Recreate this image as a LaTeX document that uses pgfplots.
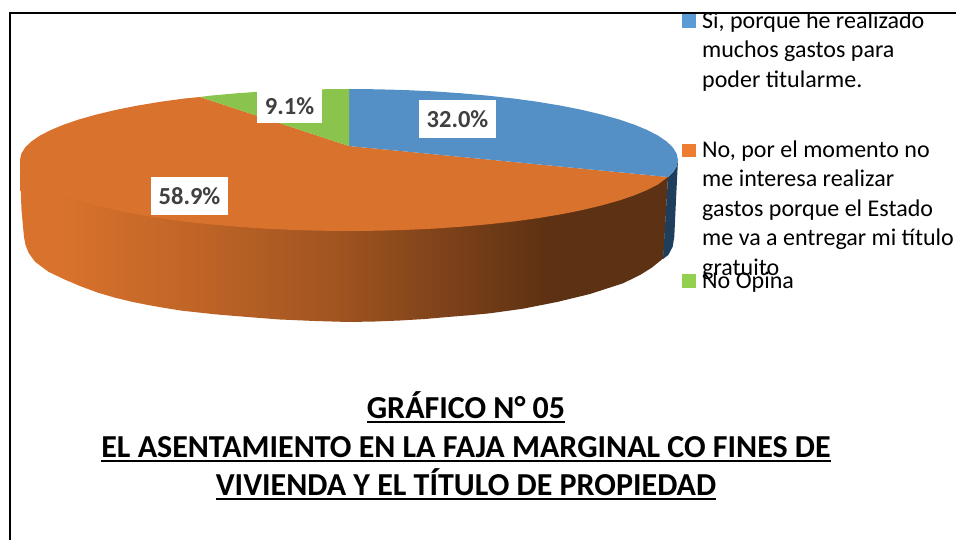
\documentclass[border=0pt]{standalone}
\usepackage{fontspec}
\setmainfont{Carlito}
\usepackage{pgfplots}
\pgfplotsset{compat=1.18}

\definecolor{sliceblue}{HTML}{5490C6}
\definecolor{sliceorange}{HTML}{D9722C}
\definecolor{slicegreen}{HTML}{8AC44C}
\definecolor{wallblue}{HTML}{1F3E5C}
\definecolor{keyblue}{HTML}{5B9BD5}
\definecolor{keyorange}{HTML}{ED7D31}
\definecolor{keygreen}{HTML}{92D050}
\definecolor{labelgrey}{HTML}{404040}

% stops sit between 25bp and 75bp, which is the width of the wall
\pgfdeclarehorizontalshading{orangewall}{100bp}{
  color(0bp)=(sliceorange); color(28bp)=(sliceorange);
  color(38.7bp)=(sliceorange!88!black); color(49.3bp)=(sliceorange!74!black);
  color(57.7bp)=(sliceorange!58!black); color(65.7bp)=(sliceorange!43!black);
  color(100bp)=(sliceorange!43!black)}

\newcommand\ul[1]{\setbox0\hbox{#1}\rlap{\rule[-5pt]{\wd0}{2pt}}\box0}

\begin{document}
\begin{tikzpicture}
\begin{axis}[
  scale only axis,
  width=956pt,
  height=540pt,
  xmin=0, xmax=956,
  ymin=0, ymax=540,
  y dir=reverse,
  axis lines=none,
  clip=false,
]
% side wall, orange (its upper edge is hidden under the top face)
\addplot[draw=none, shade, shading=orangewall] coordinates {
  (20,160) (668,177)
  (663.3,258.3) (652,267.5) (640,275) (623,283.3) (590,294) (557,302) (523,308.7) (490,313.3)
  (470,315.2) (450,316.8) (425,319) (400,320.5) (375,321.5) (349,322) (315,321) (280,319.5)
  (250,317.2) (215,314.3) (182,310.7) (165,308) (148,305) (131.5,301.7) (115,297.7) (98,292.7)
  (81.7,286.7) (65,279.7) (48.3,271.7) (35,261.7) (28.7,253) (25.5,245) (24,237) (21.5,210) (20.5,185)
} -- cycle;
% side wall, blue
\addplot[draw=none, fill=wallblue] coordinates {
  (668,177) (673,172.3) (676.7,166.2) (678,160) (676,200) (674.3,236.7) (672.7,246.7)
  (668.3,255) (663,259)
} -- cycle;
% top face
\addplot[draw=none, fill=sliceorange] coordinates {
  (349,146) (200,97) (184.5,98.5) (160.3,101.8) (137.5,105.6) (116.4,109.8) (97,114.4)
  (79.5,119.3) (64.1,124.5) (50.8,130) (39.8,135.7) (31.2,141.6) (25,147.7) (21.3,153.8)
  (20,160) (21.3,166.2) (25,172.3) (31.2,178.4) (39.8,184.3) (50.8,190) (64.1,195.5)
  (79.5,200.7) (97,205.6) (116.4,210.2) (137.5,214.4) (160.3,218.2) (184.5,221.5) (210,224.3)
  (236.5,226.7) (263.9,228.6) (291.9,229.9) (320.3,230.7) (349,231) (377.7,230.7) (406.1,229.9)
  (434.1,228.6) (461.5,226.7) (488,224.3) (513.5,221.5) (537.7,218.2) (560.5,214.4) (581.6,210.2)
  (601,205.6) (618.5,200.7) (633.9,195.5) (647.2,190) (658.2,184.3) (668,177)
} -- cycle;
\addplot[draw=none, fill=sliceblue] coordinates {
  (349,146) (349,89) (377.7,89.3) (406.1,90.1) (434.1,91.4) (461.5,93.3) (488,95.7) (513.5,98.5)
  (537.7,101.8) (560.5,105.6) (581.6,109.8) (601,114.4) (618.5,119.3) (633.9,124.5) (647.2,130)
  (658.2,135.7) (666.8,141.6) (673,147.7) (676.7,153.8) (678,160) (676.7,166.2) (673,172.3) (668,177)
} -- cycle;
\addplot[draw=none, fill=slicegreen] coordinates {
  (349,146) (349,89) (320.3,89.3) (291.9,90.1) (263.9,91.4) (236.5,93.3) (210,95.7) (200,97)
} -- cycle;

% data labels
\begin{scope}[every node/.style={fill=white, text=labelgrey, inner sep=0pt,
    align=center, font=\fontsize{24.5}{24.5}\selectfont\bfseries}]
  \node[minimum width=77pt, minimum height=38pt] at (axis cs:457.5,119) {32.0\%};
  \node[minimum width=77pt, minimum height=38pt] at (axis cs:189.5,196) {58.9\%};
  \node[minimum width=65pt, minimum height=34pt] at (axis cs:289.5,106) {9.1\%};
\end{scope}

% legend
\addplot[draw=none, fill=keyblue] coordinates {(682,14) (696,14) (696,28) (682,28)} -- cycle;
\addplot[draw=none, fill=keyorange] coordinates {(682,144) (696,144) (696,157) (682,157)} -- cycle;
\addplot[draw=none, fill=keygreen] coordinates {(682,274) (696,274) (696,288) (682,288)} -- cycle;
\begin{scope}[every node/.style={anchor=base west, inner sep=0pt,
    font=\fontsize{24}{24}\selectfont}]
  \node at (axis cs:702,28.5) {Sí, porque he realizado};
  \node at (axis cs:702,58) {muchos gastos para};
  \node at (axis cs:702,87.5) {poder titularme.};
  \node at (axis cs:702,157.5) {No, por el momento no};
  \node at (axis cs:702,187) {me interesa realizar};
  \node at (axis cs:702,217) {gastos porque el Estado};
  \node at (axis cs:702,246) {me va a entregar mi título};
  \node at (axis cs:702,275.5) {gratuito};
  \node at (axis cs:702,288) {No Opina};
\end{scope}

% title
\begin{scope}[every node/.style={anchor=base, inner sep=0pt,
    font=\fontsize{32}{32}\selectfont\bfseries}]
  \node at (axis cs:466,418) {\ul{GRÁFICO N° 05}};
  \node at (axis cs:466,457) {\ul{EL ASENTAMIENTO EN LA FAJA MARGINAL CO FINES DE}};
  \node at (axis cs:466,495) {\ul{VIVIENDA Y EL TÍTULO DE PROPIEDAD}};
\end{scope}

% frame, cuts the top of the first legend line
\fill[white] (axis cs:660,0) rectangle (axis cs:956,12.5);
\draw[black, line width=2pt] (axis cs:9.5,540) -- (axis cs:9.5,13) -- (axis cs:956,13);
\end{axis}
\pgfresetboundingbox
\useasboundingbox (0,0) rectangle (956pt,540pt);
\end{tikzpicture}
\end{document}
